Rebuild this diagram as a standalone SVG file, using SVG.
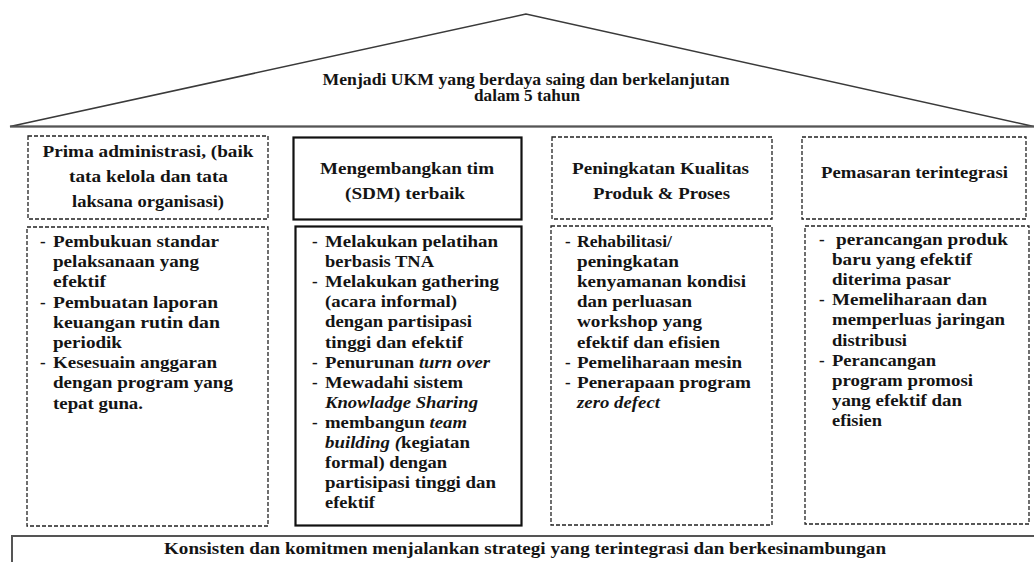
<svg xmlns="http://www.w3.org/2000/svg" width="1034" height="562" viewBox="0 0 1034 562">
<style>
text{font-family:"Liberation Serif","Times New Roman",serif;font-weight:bold;fill:#141414}
.h{font-size:17px;text-anchor:middle}
.c{font-size:17px}
.r{font-size:16px;text-anchor:middle}
.i{font-style:italic}
.dash{fill:#fff;stroke:#222;stroke-width:1.3;stroke-dasharray:4 2}
.solid{fill:#fff;stroke:#111;stroke-width:2.2}
</style>
<rect width="1034" height="562" fill="#fff"/>
<g id="roof">
<polygon points="526,14 10,126.5 1034,126.5" fill="#fff" stroke="#3a3a3a" stroke-width="1.5"/>
<line x1="10" y1="126.5" x2="1034" y2="126.5" stroke="#555" stroke-width="2"/>
<text class="r" x="526" y="85" textLength="407" lengthAdjust="spacingAndGlyphs">Menjadi UKM yang berdaya saing dan berkelanjutan</text>
<text class="r" x="527" y="101" textLength="106" lengthAdjust="spacingAndGlyphs">dalam 5 tahun</text>
</g>
<g id="h1">
<rect class="dash" x="28" y="136" width="240" height="83"/>
<text class="h" x="148" y="157" textLength="211" lengthAdjust="spacingAndGlyphs">Prima administrasi, (baik</text>
<text class="h" x="148.5" y="182" textLength="159" lengthAdjust="spacingAndGlyphs">tata kelola dan tata</text>
<text class="h" x="148" y="207" textLength="152" lengthAdjust="spacingAndGlyphs">laksana organisasi)</text>
</g>
<g id="h2">
<rect class="solid" x="293.5" y="137.5" width="228" height="82"/>
<text class="h" x="407" y="174" textLength="174" lengthAdjust="spacingAndGlyphs">Mengembangkan tim</text>
<text class="h" x="405" y="199" textLength="120" lengthAdjust="spacingAndGlyphs">(SDM) terbaik</text>
</g>
<g id="h3">
<rect class="dash" x="552" y="137" width="220" height="82"/>
<text class="h" x="660.5" y="174" textLength="177" lengthAdjust="spacingAndGlyphs">Peningkatan Kualitas</text>
<text class="h" x="661.5" y="199" textLength="137" lengthAdjust="spacingAndGlyphs">Produk &amp; Proses</text>
</g>
<g id="h4">
<rect class="dash" x="802" y="137" width="224" height="82"/>
<text class="h" x="914.5" y="178" textLength="187" lengthAdjust="spacingAndGlyphs">Pemasaran  terintegrasi</text>
</g>
<g id="b1">
<rect class="dash" x="27" y="227" width="241" height="299"/>
<g class="c">
<text x="40" y="247">-</text><text x="53" y="247" textLength="166" lengthAdjust="spacingAndGlyphs">Pembukuan standar</text>
<text x="53" y="267.2" textLength="146" lengthAdjust="spacingAndGlyphs">pelaksanaan yang</text>
<text x="53" y="287.4" textLength="53" lengthAdjust="spacingAndGlyphs">efektif</text>
<text x="40" y="307.6">-</text><text x="53" y="307.6" textLength="165" lengthAdjust="spacingAndGlyphs">Pembuatan  laporan</text>
<text x="53" y="327.8" textLength="167" lengthAdjust="spacingAndGlyphs">keuangan  rutin dan</text>
<text x="53" y="348" textLength="69" lengthAdjust="spacingAndGlyphs">periodik</text>
<text x="40" y="368.2">-</text><text x="53" y="368.2" textLength="164" lengthAdjust="spacingAndGlyphs">Kesesuain  anggaran</text>
<text x="53" y="388.4" textLength="180" lengthAdjust="spacingAndGlyphs">dengan program  yang</text>
<text x="53" y="408.6" textLength="90" lengthAdjust="spacingAndGlyphs">tepat guna.</text>
</g>
</g>
<g id="b2">
<rect class="solid" x="295.5" y="226.5" width="226" height="299"/>
<g class="c">
<text x="312" y="247">-</text><text x="325" y="247" textLength="173" lengthAdjust="spacingAndGlyphs">Melakukan pelatihan</text>
<text x="325" y="267.1" textLength="109" lengthAdjust="spacingAndGlyphs">berbasis TNA</text>
<text x="312" y="287.2">-</text><text x="325" y="287.2" textLength="174" lengthAdjust="spacingAndGlyphs">Melakukan gathering</text>
<text x="325" y="307.3" textLength="132" lengthAdjust="spacingAndGlyphs">(acara informal)</text>
<text x="325" y="327.4" textLength="147" lengthAdjust="spacingAndGlyphs">dengan partisipasi</text>
<text x="325" y="347.5" textLength="138" lengthAdjust="spacingAndGlyphs">tinggi dan efektif</text>
<text x="312" y="367.6">-</text><text x="325" y="367.6" textLength="165" lengthAdjust="spacingAndGlyphs">Penurunan <tspan class="i">turn over</tspan></text>
<text x="312" y="387.7">-</text><text x="325" y="387.7" textLength="138" lengthAdjust="spacingAndGlyphs">Mewadahi sistem</text>
<text x="325" y="407.8" textLength="153" lengthAdjust="spacingAndGlyphs"><tspan class="i">Knowladge Sharing</tspan></text>
<text x="312" y="427.9">-</text><text x="325" y="427.9" textLength="142" lengthAdjust="spacingAndGlyphs">membangun <tspan class="i">team</tspan></text>
<text x="325" y="448" textLength="145" lengthAdjust="spacingAndGlyphs"><tspan class="i">building (</tspan>kegiatan</text>
<text x="325" y="468.1" textLength="122" lengthAdjust="spacingAndGlyphs">formal) dengan</text>
<text x="325" y="488.2" textLength="171" lengthAdjust="spacingAndGlyphs">partisipasi tinggi dan</text>
<text x="325" y="508.3" textLength="50" lengthAdjust="spacingAndGlyphs">efektif</text>
</g>
</g>
<g id="b3">
<rect class="dash" x="551" y="226" width="221" height="299"/>
<g class="c">
<text x="565" y="247">-</text><text x="577" y="247" textLength="95" lengthAdjust="spacingAndGlyphs">Rehabilitasi/</text>
<text x="577" y="267.1" textLength="102" lengthAdjust="spacingAndGlyphs">peningkatan</text>
<text x="577" y="287.2" textLength="169" lengthAdjust="spacingAndGlyphs">kenyamanan kondisi</text>
<text x="577" y="307.3" textLength="115" lengthAdjust="spacingAndGlyphs">dan perluasan</text>
<text x="577" y="327.4" textLength="125" lengthAdjust="spacingAndGlyphs">workshop yang</text>
<text x="577" y="347.5" textLength="143" lengthAdjust="spacingAndGlyphs">efektif dan efisien</text>
<text x="565" y="367.6">-</text><text x="577" y="367.6" textLength="165" lengthAdjust="spacingAndGlyphs">Pemeliharaan  mesin</text>
<text x="565" y="387.7">-</text><text x="577" y="387.7" textLength="174" lengthAdjust="spacingAndGlyphs">Penerapaan  program</text>
<text x="577" y="407.8" textLength="83" lengthAdjust="spacingAndGlyphs"><tspan class="i">zero defect</tspan></text>
</g>
</g>
<g id="b4">
<rect class="dash" x="805" y="226" width="224" height="298"/>
<g class="c">
<text x="819" y="245">-</text><text x="836" y="245" textLength="172" lengthAdjust="spacingAndGlyphs">perancangan produk</text>
<text x="832" y="265.1" textLength="140" lengthAdjust="spacingAndGlyphs">baru yang efektif</text>
<text x="832" y="285.2" textLength="119" lengthAdjust="spacingAndGlyphs">diterima pasar</text>
<text x="819" y="305.3">-</text><text x="832" y="305.3" textLength="155" lengthAdjust="spacingAndGlyphs">Memeliharaan  dan</text>
<text x="832" y="325.4" textLength="173" lengthAdjust="spacingAndGlyphs">memperluas jaringan</text>
<text x="832" y="345.5" textLength="75" lengthAdjust="spacingAndGlyphs">distribusi</text>
<text x="819" y="365.6">-</text><text x="832" y="365.6" textLength="104" lengthAdjust="spacingAndGlyphs">Perancangan</text>
<text x="832" y="385.7" textLength="141" lengthAdjust="spacingAndGlyphs">program promosi</text>
<text x="832" y="405.8" textLength="130" lengthAdjust="spacingAndGlyphs">yang efektif dan</text>
<text x="832" y="425.9" textLength="50" lengthAdjust="spacingAndGlyphs">efisien</text>
</g>
</g>
<g id="base">
<polyline points="12,563 12,536 1035,536" fill="none" stroke="#555" stroke-width="2"/>
<text class="r" x="525" y="554" font-size="16.5" textLength="722" lengthAdjust="spacingAndGlyphs">Konsisten dan komitmen menjalankan strategi yang terintegrasi dan berkesinambungan</text>
</g>
<g id="connectors"></g>
</svg>
